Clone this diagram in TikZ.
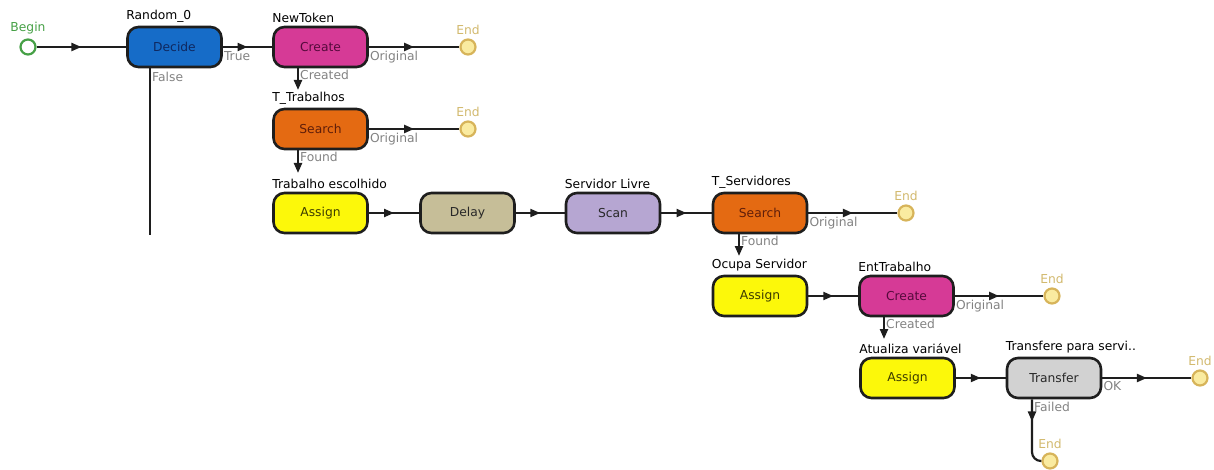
\documentclass[tikz,border=0pt]{standalone}
\usepackage{fontspec}
\setmainfont{DejaVu Sans}
\usetikzlibrary{arrows.meta,decorations.markings,calc}

% palette
\definecolor{edge}{RGB}{30,30,30}
\definecolor{cdecide}{RGB}{22,108,200}
\definecolor{ccreate}{RGB}{214,58,150}
\definecolor{csearch}{RGB}{228,106,18}
\definecolor{cassign}{RGB}{252,248,10}
\definecolor{cdelay}{RGB}{198,190,152}
\definecolor{cscan}{RGB}{182,166,210}
\definecolor{ctransfer}{RGB}{210,210,210}
\definecolor{tdecide}{RGB}{15,40,95}
\definecolor{tcreate}{RGB}{85,10,60}
\definecolor{tsearch}{RGB}{95,30,10}
\definecolor{tassign}{RGB}{60,60,0}
\definecolor{tplain}{RGB}{40,40,40}
\definecolor{portgray}{RGB}{130,130,130}
\definecolor{begingreen}{RGB}{70,160,70}
\definecolor{endedge}{RGB}{215,180,90}
\definecolor{endfill}{RGB}{250,235,160}
\definecolor{endtext}{RGB}{210,185,110}

\tikzset{
  blk/.style={draw=edge, line width=2.6pt, rounded corners=11pt,
    minimum width=94pt, minimum height=40pt, inner sep=0pt,
    font=\fontsize{12.3}{14}\selectfont},
  ttl/.style={anchor=south west, inner sep=0pt, text=black,
    font=\fontsize{12.3}{14}\selectfont},
  port/.style={anchor=north west, inner sep=0pt, text=portgray,
    font=\fontsize{12.3}{14}\selectfont},
  endpt/.style={circle, draw=endedge, fill=endfill, line width=2.2pt,
    minimum size=15pt, inner sep=0pt},
  beginpt/.style={circle, draw=begingreen, fill=white, line width=2.2pt,
    minimum size=15pt, inner sep=0pt},
  endlbl/.style={anchor=south, inner sep=0pt, text=endtext,
    font=\fontsize{12.3}{14}\selectfont},
  beglbl/.style={anchor=south, inner sep=0pt, text=begingreen,
    font=\fontsize{12.3}{14}\selectfont},
  flow/.style={draw=edge, line width=2.2pt, postaction={decorate},
    decoration={markings, mark=at position #1 with
      {\arrow{Triangle[length=10pt,width=8pt]}}}},
  flow/.default=0.5,
  drop/.style={draw=edge, line width=2.2pt, -{Triangle[length=10pt,width=8pt]}},
  plain/.style={draw=edge, line width=2.2pt},
}

\begin{document}
\begin{tikzpicture}[x=1pt,y=-1pt]
\useasboundingbox (0,0) rectangle (1214,470);

% ---- blocks ----
\node[beginpt] (b0) at (28,47) {};
\node[beglbl] (b0l) at ([yshift=4pt]b0.north) {Begin};

\node[blk, fill=cdecide, text=tdecide] (dec) at (174.5,47) {Decide};
\node[ttl] (decT) at ([yshift=3pt]dec.north west) {Random\_0};

\node[blk, fill=ccreate, text=tcreate] (nt) at (320.5,47) {Create};
\node[ttl] (ntT) at ([yshift=3pt]nt.north west) {NewToken};

\node[blk, fill=csearch, text=tsearch] (tt) at (320.5,129) {Search};
\node[ttl] (ttT) at ([yshift=3pt]tt.north west) {T\_Trabalhos};

\node[blk, fill=cassign, text=tassign] (te) at (320.5,213) {Assign};
\node[ttl] (teT) at ([yshift=3pt]te.north west) {Trabalho escolhido};

\node[blk, fill=cdelay, text=tplain] (dl) at (467.5,213) {Delay};

\node[blk, fill=cscan, text=tplain] (sl) at (613,213) {Scan};
\node[ttl] (slT) at ([yshift=3pt]sl.north west) {Servidor Livre};

\node[blk, fill=csearch, text=tsearch] (ts) at (760,213) {Search};
\node[ttl] (tsT) at ([yshift=3pt]ts.north west) {T\_Servidores};

\node[blk, fill=cassign, text=tassign] (os) at (760,296) {Assign};
\node[ttl] (osT) at ([yshift=3pt]os.north west) {Ocupa Servidor};

\node[blk, fill=ccreate, text=tcreate] (et) at (906.5,296) {Create};
\node[ttl] (etT) at ([yshift=3pt]et.north west) {EntTrabalho};

\node[blk, fill=cassign, text=tassign] (av) at (907.5,378) {Assign};
\node[ttl] (avT) at ([yshift=3pt]av.north west) {Atualiza variável};

\node[blk, fill=ctransfer, text=tplain] (tf) at (1054,378) {Transfer};
\node[ttl] (tfT) at ([yshift=3pt]tf.north west) {Transfere para servi..};

% ---- terminals ----
\node[endpt] (e1) at (468,47) {};
\node[endlbl] (e1l) at ([yshift=4pt]e1.north) {End};
\node[endpt] (e2) at (468,129) {};
\node[endlbl] (e2l) at ([yshift=4pt]e2.north) {End};
\node[endpt] (e3) at (906,213) {};
\node[endlbl] (e3l) at ([yshift=4pt]e3.north) {End};
\node[endpt] (e4) at (1052,296) {};
\node[endlbl] (e4l) at ([yshift=4pt]e4.north) {End};
\node[endpt] (e5) at (1200,378) {};
\node[endlbl] (e5l) at ([yshift=4pt]e5.north) {End};
\node[endpt] (e6) at (1050,461) {};
\node[endlbl] (e6l) at ([yshift=4pt]e6.north) {End};

% ---- free ends of short and open connectors ----
\coordinate (fx) at (150,235);
\coordinate (c1) at (298,90);
\coordinate (c2) at (298,173);
\coordinate (c3) at (739,256);
\coordinate (c4) at (884,339);
\coordinate (c5) at (1032,461);

% ---- connectors ----
\draw[flow] (b0) -- (dec);
\draw[flow] (dec) -- (nt);
\draw[flow] (nt) -- (e1);
\draw[flow] (tt) -- (e2);
\draw[flow] (te) -- (dl);
\draw[flow] (dl) -- (sl);
\draw[flow] (sl) -- (ts);
\draw[flow] (ts) -- (e3);
\draw[flow] (os) -- (et);
\draw[flow] (et) -- (e4);
\draw[flow] (av) -- (tf);
\draw[flow] (tf) -- (e5);

\draw[plain] (fx |- dec.south) -- (fx);
\draw[drop] (c1 |- nt.south) -- (c1);
\draw[drop] (c2 |- tt.south) -- (c2);
\draw[drop] (c3 |- ts.south) -- (c3);
\draw[drop] (c4 |- et.south) -- (c4);
\draw[flow=0.33, rounded corners=9pt] (c5 |- tf.south) -- (c5) -- (e6.west);

% ---- port labels ----
\node[port] (pTrue) at ($(dec.east)+(1,4)$) {True};
\node[port] (pFalse) at ($(fx |- dec.south)+(2,4)$) {False};
\node[port] (pO1) at ($(nt.east)+(1,4)$) {Original};
\node[port] (pC1) at ($(c1 |- nt.south)+(2,2)$) {Created};
\node[port] (pO2) at ($(tt.east)+(1,4)$) {Original};
\node[port] (pF2) at ($(c2 |- tt.south)+(2,2)$) {Found};
\node[port] (pO3) at ($(ts.east)+(1,4)$) {Original};
\node[port] (pF3) at ($(c3 |- ts.south)+(2,2)$) {Found};
\node[port] (pO4) at ($(et.east)+(1,4)$) {Original};
\node[port] (pC4) at ($(c4 |- et.south)+(2,2)$) {Created};
\node[port] (pOK) at ($(tf.east)+(1,3)$) {OK};
\node[port] (pFl) at ($(c5 |- tf.south)+(2,3)$) {Failed};
\end{tikzpicture}
\end{document}
